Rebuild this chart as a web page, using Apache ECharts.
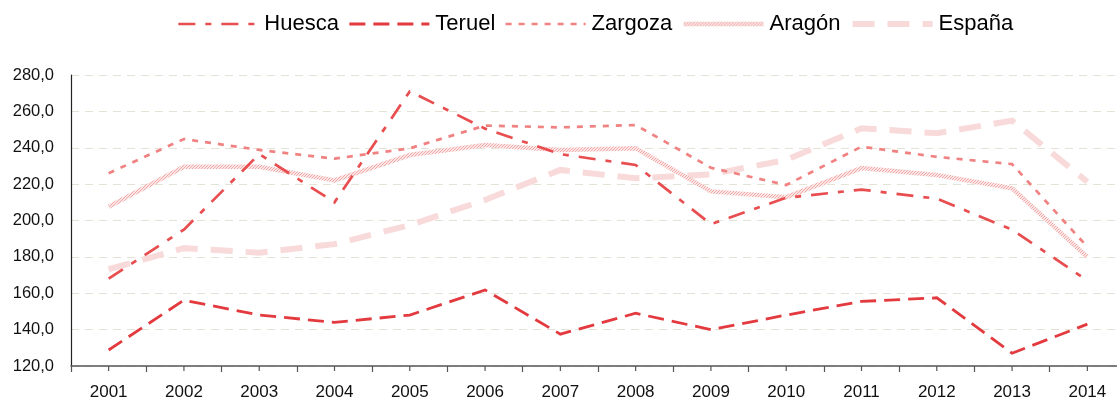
<!DOCTYPE html>
<html>
<head>
<meta charset="utf-8">
<script src="https://cdn.jsdelivr.net/npm/echarts@6/dist/echarts.min.js"></script>
<style>
html,body{margin:0;padding:0;background:#fff;}
#chart{width:1117px;height:400px;}
</style>
</head>
<body>
<div id="chart"></div>
<script>
const years = ['2001','2002','2003','2004','2005','2006','2007','2008','2009','2010','2011','2012','2013','2014'];
const huesca = [168.0, 195.0, 236.5, 210.0, 271.0, 250.5, 236.5, 230.5, 198.0, 212.5, 217.0, 212.0, 195.0, 167.0];
const teruel = [128.8, 156.2, 148.0, 144.0, 148.0, 161.8, 137.5, 149.0, 140.0, 148.0, 155.5, 157.5, 127.0, 143.0];
const zargoza = [226.0, 244.8, 238.8, 234.0, 239.7, 252.2, 251.2, 252.5, 229.0, 219.5, 240.6, 235.0, 231.0, 185.5];
const aragon = [207.6, 229.5, 229.5, 222.0, 236.0, 241.5, 238.8, 239.7, 216.0, 212.8, 228.8, 225.0, 217.7, 180.0];
const espana = [173.2, 184.8, 182.3, 187.0, 197.5, 211.3, 227.8, 223.2, 225.4, 233.3, 250.7, 248.0, 254.9, 221.3];
const legendNames = ['Huesca', 'Teruel', 'Zargoza', 'Aragón', 'España'];
const yMin = 120, yMax = 280, yStep = 20;

// dotted texture for Aragón
const pat = document.createElement('canvas');
pat.width = 3; pat.height = 3;
const pc = pat.getContext('2d');
pc.fillStyle = '#fbe6e6'; pc.fillRect(0,0,3,3);
pc.fillStyle = '#f2a8a8';
pc.fillRect(0,0,1,1); pc.fillRect(2,1,1,1); pc.fillRect(1,2,1,1);
const aragonColor = {image: pat, repeat: 'repeat'};

const styles = {
  'Huesca':  {color: '#e84d50', width: 2.7, type: [17, 10, 6, 10]},
  'Teruel':  {color: '#e23a3e', width: 2.8, type: [16, 8]},
  'Zargoza': {color: '#f08282', width: 2.7, type: [6, 7]},
  'Aragón':  {color: aragonColor, width: 4.5, type: 'solid'},
  'España':  {color: '#f9dada', width: 6, type: [22, 13]}
};
const seriesData = {'Huesca': huesca, 'Teruel': teruel, 'Zargoza': zargoza, 'Aragón': aragon, 'España': espana};

const chart = echarts.init(document.getElementById('chart'), null, {renderer: 'canvas'});
const font = 'Liberation Sans, Arial, sans-serif';
function mk(name) {
  const s = styles[name];
  return {
    name, type: 'line', data: seriesData[name], symbol: 'none', xAxisIndex: 0, yAxisIndex: 0,
    lineStyle: {color: s.color, width: s.width, type: s.type, cap: 'butt', join: 'miter'},
    itemStyle: {color: s.color},
    emphasis: {disabled: true},
    animation: false
  };
}
const gridBox = {left: 71, right: -8, top: 75, bottom: 34, containLabel: false, outerBoundsMode: 'none'};
const tickStyle = {color: '#555', width: 1.2};

// centre tick marks under each category, placed through the category axis scale
const centreTicks = {
  type: 'custom', xAxisIndex: 0, yAxisIndex: 0, silent: true, clip: false, animation: false, z: 5,
  data: years.map(y => [y, yMin]),
  encode: {x: 0, y: 1},
  renderItem: function (params, api) {
    const p = api.coord([api.value(0), yMin]);
    return {
      type: 'line',
      shape: {x1: p[0], y1: p[1], x2: p[0], y2: p[1] + 5},
      style: {stroke: '#555', lineWidth: 1.2}
    };
  }
};

chart.setOption({
  animation: false,
  backgroundColor: '#fff',
  legend: {
    top: 8, left: 172,
    itemWidth: 80, itemHeight: 8, itemGap: 9,
    itemStyle: {opacity: 0},
    textStyle: {fontFamily: font, fontSize: 22, color: '#000', padding: [0, 0, 0, 1]},
    data: legendNames.map(n => ({
      name: n,
      lineStyle: {color: styles[n].color, width: styles[n].width, type: styles[n].type, cap: 'butt'}
    }))
  },
  grid: [Object.assign({}, gridBox)],
  xAxis: [{
    type: 'category', data: years, boundaryGap: true, position: 'bottom',
    axisLine: {lineStyle: {color: '#555', width: 1.5}},
    axisTick: {show: false},
    axisLabel: {fontFamily: font, fontSize: 17, color: '#111', margin: 18, interval: 0},
    splitLine: {show: false}
  }, {
    // category boundary tick marks
    type: 'value', min: 0, max: years.length, interval: 1, position: 'bottom', offset: 0,
    axisLine: {show: false},
    axisTick: {show: true, length: 6, lineStyle: tickStyle},
    axisLabel: {show: false},
    splitLine: {show: false}
  }],
  yAxis: [{
    type: 'value', min: yMin, max: yMax, interval: yStep,
    axisLine: {show: true, lineStyle: {color: '#222', width: 1.2}},
    axisTick: {show: false},
    axisLabel: {fontFamily: font, fontSize: 16.5, color: '#111', margin: 17,
      formatter: v => v.toFixed(1).replace('.', ',')},
    splitLine: {show: true, lineStyle: {color: '#e4e2d4', width: 1, type: [8, 6]}}
  }],
  series: ['España', 'Aragón', 'Zargoza', 'Teruel', 'Huesca'].map(mk).concat([centreTicks])
});
</script>
</body>
</html>
